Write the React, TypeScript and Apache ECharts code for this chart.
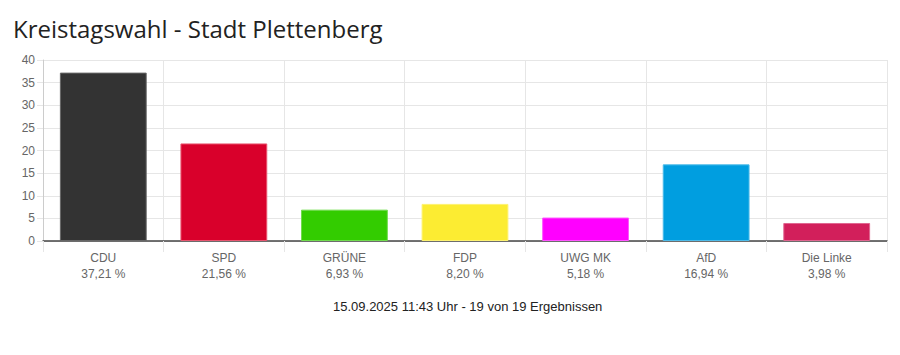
import React, { useEffect, useRef } from "react";
import * as echarts from "echarts";

const parties = ["CDU", "SPD", "GRÜNE", "FDP", "UWG MK", "AfD", "Die Linke"];
const values = [37.21, 21.56, 6.93, 8.2, 5.18, 16.94, 3.98];
const colors = ["#333333", "#d9002b", "#33cc00", "#fcec32", "#ff00ff", "#009ee0", "#d21f5b"];
const borderColors = ["#666666", "#e8556f", "#70dc4d", "#fdf270", "#ff55ff", "#4dbbe9", "#e06690"];
const titleText = "Kreistagswahl - Stadt Plettenberg";
const footerText = "15.09.2025 11:43 Uhr - 19 von 19 Ergebnissen";

const fmt = (v: number) => v.toFixed(2).replace(".", ",") + " %";

export default function App() {
  const ref = useRef<HTMLDivElement>(null);
  useEffect(() => {
    if (!ref.current) return;
    const chart = echarts.init(ref.current, null, { renderer: "svg" });
    chart.setOption({
      animation: false,
      title: [
        {
          text: titleText,
          left: 5,
          top: 8,
          padding: 0,
          textStyle: { fontFamily: "Open Sans", fontSize: 24, fontWeight: "normal", color: "#222" },
        },
        {
          text: footerText,
          left: 325,
          top: 292,
          padding: 0,
          textStyle: { fontFamily: "Liberation Sans", fontSize: 13, fontWeight: "normal", color: "#222" },
        },
      ],
      grid: { left: 35, right: 5, top: 52, height: 181, containLabel: false },
      xAxis: {
        type: "category",
        data: parties,
        boundaryGap: true,
        axisLine: { show: true, lineStyle: { color: "#444", width: 1.5 } },
        axisTick: { show: true, length: 11, alignWithLabel: false, lineStyle: { color: "#e6e6e6" } },
        splitLine: { show: true, lineStyle: { color: "#e6e6e6" } },
        axisLabel: {
          margin: 9,
          color: "#666",
          fontFamily: "Liberation Sans",
          fontSize: 12,
          lineHeight: 16,
          formatter: (name: string, idx: number) => name + "\n" + fmt(values[idx]),
        },
      },
      yAxis: {
        type: "value",
        min: 0,
        max: 40,
        interval: 5,
        axisLine: { show: true, lineStyle: { color: "#ccc" } },
        axisTick: { show: true, length: 6, lineStyle: { color: "#e6e6e6" } },
        splitLine: { show: true, lineStyle: { color: "#e6e6e6" } },
        axisLabel: { margin: 8, color: "#666", fontFamily: "Liberation Sans", fontSize: 12 },
      },
      series: [
        {
          type: "bar",
          barWidth: "72%",
          data: values.map((v, i) => ({
            value: v,
            itemStyle: { color: colors[i], borderColor: borderColors[i], borderWidth: 1 },
          })),
        },
      ],
    });
    return () => chart.dispose();
  }, []);
  return <div ref={ref} style={{ width: 884, height: 339 }} />;
}
